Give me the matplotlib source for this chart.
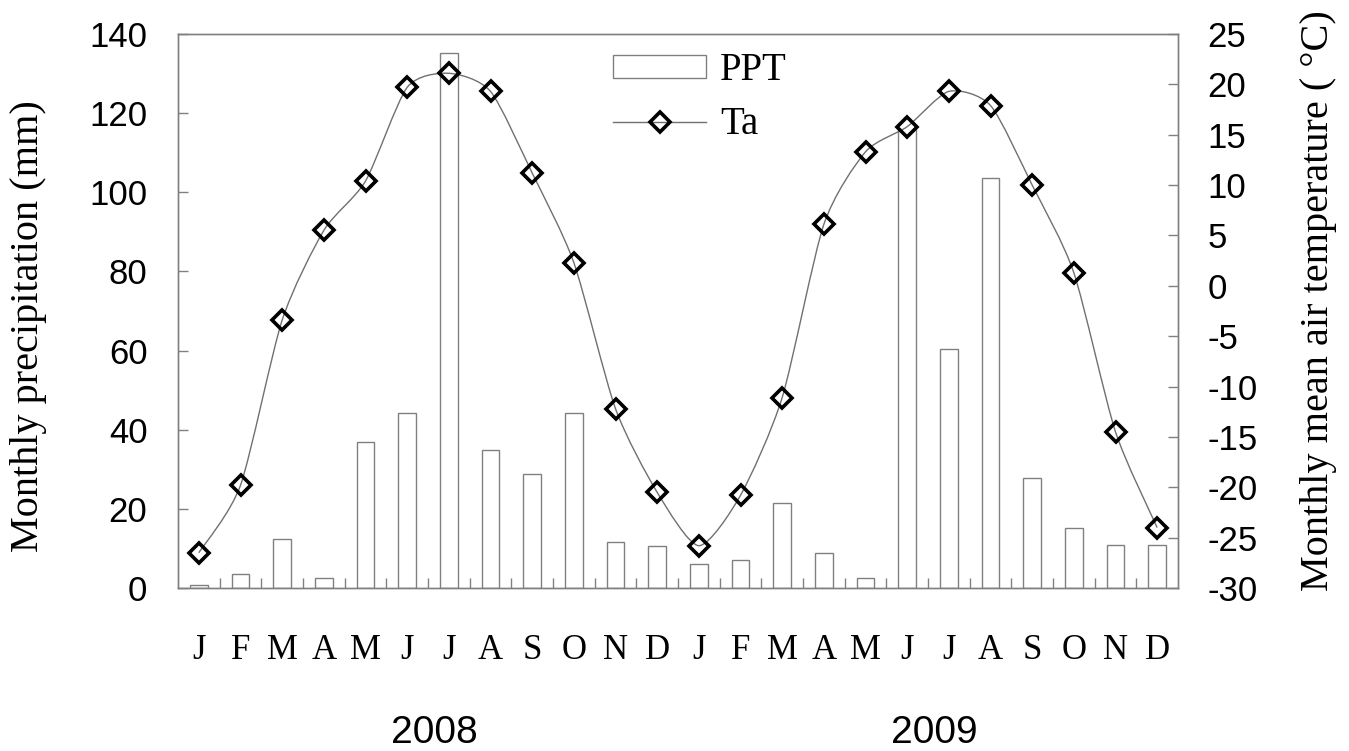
"""
Monthly precipitation (bars) and monthly mean air temperature (line), 2008-2009.
"""

import matplotlib.pyplot as plt
import numpy as np
from matplotlib.path import Path
from matplotlib.patches import PathPatch, Patch
from matplotlib.lines import Line2D

#---------------------------------------
# Data
#---------------------------------------
months = ["J", "F", "M", "A", "M", "J", "J", "A", "S", "O", "N", "D"] * 2
years = ["2008", "2009"]

# monthly precipitation (mm)
ppt = [0.8, 3.5, 12.5, 2.6, 36.9, 44.2, 135.3, 34.9, 28.8, 44.2, 11.6, 10.6,
       6.1, 7.1, 21.5, 8.8, 2.5, 116.0, 60.4, 103.7, 27.8, 15.2, 10.9, 10.9]

# monthly mean air temperature (degC)
ta = [-26.5, -19.8, -3.4, 5.5, 10.4, 19.7, 21.1, 19.3, 11.2, 2.3, -12.2, -20.5,
      -25.8, -20.8, -11.1, 6.1, 13.3, 15.8, 19.3, 17.9, 10.0, 1.3, -14.5, -24.0]

ppt_ticks = [0, 20, 40, 60, 80, 100, 120, 140]
ta_ticks = [-30, -25, -20, -15, -10, -5, 0, 5, 10, 15, 20, 25]

#---------------------------------------
# Figure
#---------------------------------------
serif = "Liberation Serif"
sans = "Liberation Sans"
grey = "#808080"

fig = plt.figure(figsize=(13.49, 7.51), dpi=100)
ax = fig.add_axes([178 / 1349, 1 - 588 / 751, 1000 / 1349, 554 / 751])
ax2 = ax.twinx()

x = np.arange(len(ppt))

# Bars - precipitation
ax.bar(x, ppt, width=0.42, facecolor="white", edgecolor=grey, linewidth=1.0, zorder=2)

# Smoothed temperature line (bezier through the monthly values, like a spreadsheet "smoothed line")
tension = 0.12
pts = np.column_stack([x, ta]).astype(float)
verts = [pts[0]]
codes = [Path.MOVETO]
n = len(pts)
for i in range(n - 1):
    p0 = pts[max(i - 1, 0)]
    p1 = pts[i]
    p2 = pts[i + 1]
    p3 = pts[min(i + 2, n - 1)]
    verts += [p1 + (p2 - p0) * tension, p2 - (p3 - p1) * tension, p2]
    codes += [Path.CURVE4] * 3

# white marker fill below the line, then the line, then the marker edges
ax2.plot(x, ta, linestyle="none", marker="D", markersize=10, markerfacecolor="white",
         markeredgecolor="none", zorder=2)
ax2.add_patch(PathPatch(Path(verts, codes), facecolor="none", edgecolor="#707070",
                        linewidth=1.0, zorder=3))
ax2.plot(x, ta, linestyle="none", marker="D", markersize=10, markerfacecolor="none",
         markeredgecolor="black", markeredgewidth=2.6, zorder=4)

# Axis limits
ax.set_xlim(-0.5, len(ppt) - 0.5)
ax.set_ylim(0, 140)
ax2.set_ylim(-30, 25)

# Ticks
ax.set_yticks(ppt_ticks)
ax.set_yticklabels([str(v) for v in ppt_ticks], fontname=sans, fontsize=25)
ax2.set_yticks(ta_ticks)
ax2.set_yticklabels([str(v) for v in ta_ticks], fontname=sans, fontsize=25)
ax.tick_params(axis="y", direction="in", length=7, width=1, color=grey, pad=22)
ax2.tick_params(axis="y", direction="in", length=7, width=1, color=grey, pad=21)

ax.set_xticks(x)
ax.set_xticklabels(months, fontname=serif, fontsize=25)
ax.tick_params(axis="x", which="major", length=0, pad=33)
ax.set_xticks(np.arange(0.5, len(ppt) - 1, 1), minor=True)
ax.tick_params(axis="x", which="minor", direction="in", length=7, width=1, color=grey)

# Year labels under the months
for k, yr in enumerate(years):
    ax.text(5.65 + 12 * k, -0.262, yr, transform=ax.get_xaxis_transform(),
            ha="center", va="center", fontname=sans, fontsize=28)

# Axis labels
ax.set_ylabel("Monthly precipitation (mm)", fontname=serif, fontsize=29)
ax.yaxis.set_label_coords(-0.131, 0.473)
ax2.set_ylabel("Monthly mean air temperature ( \u00b0C)", fontname=serif, fontsize=29)
ax2.yaxis.set_label_coords(1.122, 0.518)

# Grey frame
for a in (ax, ax2):
    for s in a.spines.values():
        s.set_color(grey)
        s.set_linewidth(1.0)

# Legend
handles = [Patch(facecolor="white", edgecolor=grey, linewidth=1.0),
           Line2D([], [], color="#707070", linewidth=1.0, marker="D", markersize=10,
                  markerfacecolor="none", markeredgecolor="black", markeredgewidth=2.6)]
leg = ax2.legend(handles, ["PPT", "Ta"], loc="upper left", bbox_to_anchor=(613 / 1349, 1 - 52 / 751),
                 bbox_transform=fig.transFigure, frameon=False, prop={"family": serif, "size": 28},
                 handlelength=2.4, handleheight=0.55, handletextpad=0.35, labelspacing=0.45,
                 borderpad=0, borderaxespad=0)

plt.savefig("out.png", dpi=100)
